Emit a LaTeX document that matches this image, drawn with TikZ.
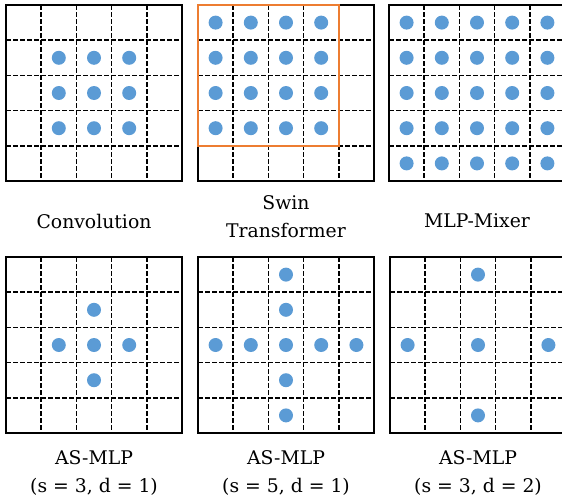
\documentclass[tikz,border=0pt]{standalone}
\usepackage{fontspec}
\setmainfont{DejaVu Serif}
\usepackage{tikz}
\usetikzlibrary{positioning}
\definecolor{dotblue}{HTML}{5B9BD5}
\definecolor{winorange}{HTML}{ED7D31}

\begin{document}
\begin{tikzpicture}[x=1pt,y=-1pt,
        gridline/.style={line width=1.7pt,dash pattern=on 4.5pt off 2.5pt},
        frame/.style={line width=2.8pt},
        window/.style={draw=winorange,line width=2.5pt},
        dot/.style={fill=dotblue},
        caption/.style={font=\fontsize{18.8}{28}\selectfont,align=center,inner sep=0pt}]
    \useasboundingbox (0,0) rectangle (562,498);
    \clip (0,0) rectangle (562,498);
    \def\cell{35.2}
    \def\half{17.6}
    % the six 5x5 grids
    \foreach \px/\py in {6/5,198/5,389/5,6/257,198/257,390/257}{
        \foreach \k in {1,...,4}{
            \draw[gridline] (\px+\k*\cell,\py) -- ++(0,176);
            \draw[gridline] (\px,\py+\k*\cell) -- ++(176,0);
        }
        \draw[frame] (\px,\py) rectangle ++(176,176);
    }
    % convolution
    \begin{scope}[shift={(6,5)}]
        \foreach \c in {1,2,3} \foreach \r in {1,2,3}
            \fill[dot] (\c*\cell+\half,\r*\cell+\half) circle (7pt);
    \end{scope}
    % swin
    \begin{scope}[shift={(198,5)}]
        \foreach \c in {0,...,3} \foreach \r in {0,...,3}
            \fill[dot] (\c*\cell+\half,\r*\cell+\half) circle (7pt);
        \draw[window] (0,0) rectangle (4*\cell,4*\cell);
    \end{scope}
    % mlp-mixer
    \begin{scope}[shift={(389,5)}]
        \foreach \c in {0,...,4} \foreach \r in {0,...,4}
            \fill[dot] (\c*\cell+\half,\r*\cell+\half) circle (7pt);
    \end{scope}
    % as-mlp s=3 d=1
    \begin{scope}[shift={(6,257)}]
        \foreach \c/\r in {2/1,1/2,2/2,3/2,2/3}
            \fill[dot] (\c*\cell+\half,\r*\cell+\half) circle (7pt);
    \end{scope}
    % as-mlp s=5 d=1
    \begin{scope}[shift={(198,257)}]
        \foreach \c/\r in {2/0,2/1,0/2,1/2,2/2,3/2,4/2,2/3,2/4}
            \fill[dot] (\c*\cell+\half,\r*\cell+\half) circle (7pt);
    \end{scope}
    % as-mlp s=3 d=2
    \begin{scope}[shift={(390,257)}]
        \foreach \c/\r in {2/0,0/2,2/2,4/2,2/4}
            \fill[dot] (\c*\cell+\half,\r*\cell+\half) circle (7pt);
    \end{scope}

    \node[caption] (conv) at (94,221) {Convolution};
    \node[caption] (swin) at (286,217) {Swin\\Transformer};
    \node[caption] (mixer) at (477,221) {MLP-Mixer};
    \node[caption] (asmlpa) at (94,473) {AS-MLP\\(s = 3, d = 1)};
    \node[caption] (asmlpb) at (286,473) {AS-MLP\\(s = 5, d = 1)};
    \node[caption] (asmlpc) at (478,473) {AS-MLP\\(s = 3, d = 2)};
\end{tikzpicture}
\end{document}
